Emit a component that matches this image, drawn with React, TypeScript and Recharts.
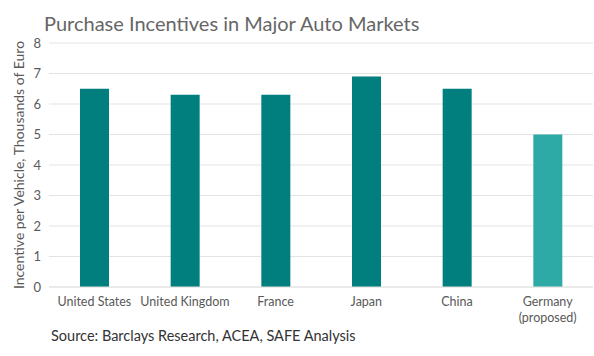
import React from 'react';
import { BarChart, Bar, XAxis, YAxis, CartesianGrid, Cell, Label } from 'recharts';

const markets = ['United States', 'United Kingdom', 'France', 'Japan', 'China', 'Germany\n(proposed)'];
const incentives = [6.5, 6.3, 6.3, 6.9, 6.5, 5.0];
const proposed = [false, false, false, false, false, true];
const yTicks = [0, 1, 2, 3, 4, 5, 6, 7, 8];

const data = markets.map((m, i) => ({ market: m, value: incentives[i], proposed: proposed[i] }));

const FONT = 'Lato, "Open Sans", sans-serif';

function MarketTick({ x, y, payload }: any) {
  const lines = String(payload.value).split('\n');
  return (
    <text x={x} y={y} textAnchor="middle" fill="#595959" fontSize={12.5} fontFamily={FONT}>
      {lines.map((l, i) => (
        <tspan key={i} x={x} dy={i === 0 ? 11 : 16}>{l}</tspan>
      ))}
    </text>
  );
}

export default function App() {
  return (
    <div style={{ position: 'absolute', left: 0, top: 0, width: 594, height: 356, background: '#fff', fontFamily: FONT }}>
      <div style={{ position: 'absolute', left: 44, top: 11, fontSize: 20, color: '#666', whiteSpace: 'nowrap' }}>
        Purchase Incentives in Major Auto Markets
      </div>
      <BarChart width={594} height={356} data={data} margin={{ top: 43, right: 1, bottom: 24, left: 0 }}>
        <CartesianGrid vertical={false} stroke="#e3e3e3" />
        <XAxis dataKey="market" axisLine={{ stroke: '#e3e3e3' }} tickLine={false} interval={0} height={45} tick={<MarketTick />} />
        <YAxis
          domain={[0, 8]}
          ticks={yTicks}
          width={49}
          axisLine={false}
          tickLine={false}
          tick={{ fill: '#595959', fontSize: 13, fontFamily: FONT }}
        >
          <Label
            value="Incentive per Vehicle, Thousands of Euro"
            angle={-90}
            position="insideLeft"
            offset={19}
            style={{ textAnchor: 'middle', fill: '#595959', fontSize: 14, fontFamily: FONT }}
          />
        </YAxis>
        <Bar dataKey="value" barSize={29} isAnimationActive={false}>
          {data.map((d, i) => (
            <Cell key={i} fill={d.proposed ? '#2eaaa6' : '#007f7e'} />
          ))}
        </Bar>
      </BarChart>
      <div style={{ position: 'absolute', left: 51, top: 327, fontSize: 14.5, color: '#333', whiteSpace: 'nowrap' }}>
        Source: Barclays Research, ACEA, SAFE Analysis
      </div>
    </div>
  );
}
